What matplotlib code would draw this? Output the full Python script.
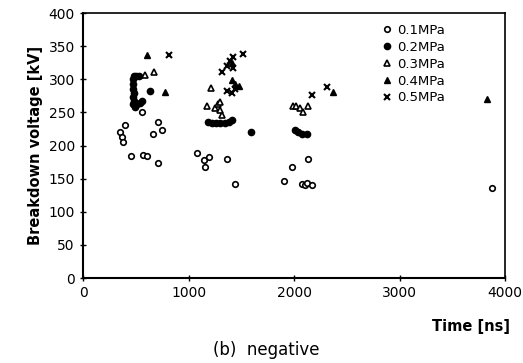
import matplotlib.pyplot as plt

# Breakdown voltage vs time to breakdown, negative polarity
t_01 = [350, 366, 382, 398, 452, 556, 571, 603, 660, 707, 713, 745,
        1076, 1150, 1190, 1155, 1365, 1435,
        1903, 1976, 2134, 2071, 2100, 2118, 2166, 3870]
v_01 = [221, 213, 206, 231, 184, 251, 186, 184, 218, 173, 236, 224,
        189, 178, 183, 168, 180, 142,
        146, 167, 179, 142, 140, 143, 141, 136]

t_02 = [480, 500, 525, 470, 475, 470, 478, 470, 485, 470, 490, 510, 535, 555, 630,
        1180, 1220, 1260, 1300, 1340, 1380, 1410, 1588,
        2008, 2039, 2071, 2118]
v_02 = [305, 305, 305, 300, 293, 286, 280, 273, 268, 262, 258, 262, 264, 268, 282,
        236, 234, 234, 234, 234, 235, 238, 221,
        224, 221, 218, 217]

t_03 = [587, 676, 1209, 1171, 1250, 1281, 1297, 1313, 1297,
        1985, 2020, 2055, 2086, 2128]
v_03 = [307, 311, 287, 260, 256, 262, 266, 246, 253,
        259, 259, 256, 251, 259]

t_04 = [609, 780, 1410, 1414, 1440, 1480, 2370, 3832]
v_04 = [337, 281, 325, 299, 293, 290, 281, 270]

t_05 = [818, 1313, 1361, 1395, 1424, 1517, 1424, 1408, 1360, 1440, 2166, 2315]
v_05 = [337, 311, 320, 328, 334, 338, 317, 280, 282, 285, 276, 289]

labels = ['0.1MPa', '0.2MPa', '0.3MPa', '0.4MPa', '0.5MPa']

fig = plt.figure(figsize=(5.23, 3.63), dpi=100)
ax = fig.add_axes([0.159, 0.234, 0.807, 0.730])

ax.plot(t_01, v_01, 'o', mfc='white', mec='black', mew=1.2, ms=4, ls='none', label=labels[0])
ax.plot(t_02, v_02, 'o', color='black', ms=4.5, ls='none', label=labels[1])
ax.plot(t_03, v_03, '^', mfc='white', mec='black', mew=1.2, ms=4.5, ls='none', label=labels[2])
ax.plot(t_04, v_04, '^', color='black', ms=5, ls='none', label=labels[3])
ax.plot(t_05, v_05, 'x', color='black', mew=1.5, ms=5, ls='none', label=labels[4])

ax.set_xlim(0, 4000)
ax.set_ylim(0, 400)
ax.set_xticks([0, 1000, 2000, 3000, 4000])
ax.set_yticks(range(0, 401, 50))
ax.tick_params(direction='inout', length=5, width=1, labelsize=10)
for s in ['left', 'bottom']:
    ax.spines[s].set_linewidth(1.5)
for s in ['top', 'right']:
    ax.spines[s].set_linewidth(1.2)

ax.set_ylabel('Breakdown voltage [kV]', fontsize=10.5, fontweight='bold')
fig.text(0.975, 0.1, 'Time [ns]', ha='right', va='center', fontsize=10.5, fontweight='bold')
fig.text(0.51, 0.035, '(b)  negative', ha='center', va='center', fontsize=12)

ax.legend(loc='upper right', bbox_to_anchor=(0.875, 0.99), frameon=False,
          fontsize=9.5, handletextpad=0.1, labelspacing=0.3, handlelength=1.2,
          borderaxespad=0.2)

fig.savefig('out.png', dpi=100)
